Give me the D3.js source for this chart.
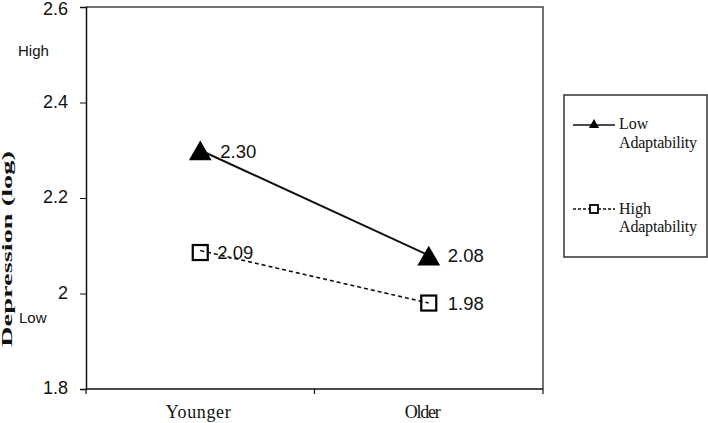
<!DOCTYPE html>
<html>
<head>
<meta charset="utf-8">
<script src="https://cdn.jsdelivr.net/npm/d3@7"></script>
<style>
  body { margin: 0; background: #fff; }
  svg { display: block; }
</style>
</head>
<body>
<div id="chart"></div>
<script>
// data
const groups = ["Younger", "Older"];
const lowAdapt = [2.30, 2.08];
const highAdapt = [2.09, 1.98];
const yTicks = [1.8, 2, 2.2, 2.4, 2.6];
const seriesNames = ["Low Adaptability", "High Adaptability"];

const W = 708, H = 423;
const plotL = 86, plotR = 543, plotT = 7, plotB = 389;

const svg = d3.select("#chart").append("svg")
    .attr("width", W)
    .attr("height", H);

const x = d3.scaleBand()
    .domain(groups)
    .range([plotL, plotR]);

const y = d3.scaleLinear()
    .domain([1.8, 2.6])
    .range([plotB, plotT]);

// plot frame (top and right)
svg.append("path")
    .attr("d", `M${plotL},${plotT}H${plotR}V${plotB}`)
    .attr("fill", "none")
    .attr("stroke", "#444")
    .attr("stroke-width", 1.5);

// y axis
const yAxis = svg.append("g")
    .attr("transform", `translate(${plotL},0)`)
    .call(d3.axisLeft(y).tickValues(yTicks).tickSize(6).tickPadding(12)
        .tickFormat(d => d === 2 ? "2" : d3.format(".1f")(d)));
yAxis.select(".domain").attr("stroke", "#111").attr("stroke-width", 1.5);
yAxis.selectAll(".tick line").attr("stroke", "#111");
yAxis.selectAll("text")
    .attr("font-family", "Liberation Sans, Arial, sans-serif")
    .attr("font-size", 18)
    .attr("fill", "#111")
    .attr("dy", d => d === 2.6 ? "0.42em" : "0.25em");

// x axis: ticks sit on band edges
const xAxis = svg.append("g")
    .attr("transform", `translate(0,${plotB})`);
xAxis.append("line")
    .attr("x1", plotL).attr("x2", plotR)
    .attr("stroke", "#111").attr("stroke-width", 1.5);
const edges = [plotL, x(groups[1]), plotR];
xAxis.selectAll(".edge")
    .data(edges)
    .join("line")
    .attr("class", "edge")
    .attr("x1", d => d).attr("x2", d => d)
    .attr("y1", 0).attr("y2", 5)
    .attr("stroke", "#111").attr("stroke-width", 1.2);
const xLabW = { Younger: 65, Older: 36 };
xAxis.selectAll("text")
    .data(groups)
    .join("text")
    .attr("x", (d, i) => x(d) + x.bandwidth() / 2 - (i === 0 ? 2 : 6))
    .attr("y", 29)
    .attr("text-anchor", "middle")
    .attr("font-family", "Liberation Serif, Times New Roman, serif")
    .attr("font-size", 18)
    .attr("textLength", d => xLabW[d])
    .attr("lengthAdjust", "spacing")
    .attr("fill", "#111")
    .text(d => d);

// y title and High / Low hints
svg.append("text")
    .attr("transform", "translate(12,249) rotate(-90)")
    .attr("text-anchor", "middle")
    .attr("font-family", "Liberation Serif, Times New Roman, serif")
    .attr("font-weight", "bold")
    .attr("font-size", 15)
    .attr("textLength", 196)
    .attr("lengthAdjust", "spacingAndGlyphs")
    .attr("fill", "#111")
    .text("Depression (log)");

svg.append("text")
    .attr("x", 18).attr("y", 56)
    .attr("font-family", "Liberation Sans, Arial, sans-serif")
    .attr("font-size", 15)
    .attr("fill", "#111")
    .text("High");
svg.append("text")
    .attr("x", 19).attr("y", 323)
    .attr("font-family", "Liberation Sans, Arial, sans-serif")
    .attr("font-size", 15)
    .attr("fill", "#111")
    .text("Low");

const cx = d => x(d) + x.bandwidth() / 2;
const line = d3.line()
    .x((d, i) => cx(groups[i]))
    .y(d => y(d));

// high adaptability (dashed, open squares)
svg.append("path")
    .datum(highAdapt)
    .attr("d", line)
    .attr("fill", "none")
    .attr("stroke", "#111")
    .attr("stroke-width", 1.6)
    .attr("stroke-dasharray", "4,3");

// low adaptability (solid, triangles)
svg.append("path")
    .datum(lowAdapt)
    .attr("d", line)
    .attr("fill", "none")
    .attr("stroke", "#111")
    .attr("stroke-width", 2);

const tri = d3.symbol().type(d3.symbolTriangle).size(225);

svg.selectAll(".tri")
    .data(lowAdapt)
    .join("path")
    .attr("class", "tri")
    .attr("d", tri)
    .attr("transform", (d, i) => `translate(${cx(groups[i])},${y(d) + 3.5})`)
    .attr("fill", "#000");

svg.selectAll(".sq")
    .data(highAdapt)
    .join("rect")
    .attr("class", "sq")
    .attr("x", (d, i) => cx(groups[i]) - 7.5)
    .attr("y", (d, i) => y(d) - 7.5 + (i === 0 ? 2 : 0))
    .attr("width", 15).attr("height", 15)
    .attr("fill", "none")
    .attr("stroke", "#000")
    .attr("stroke-width", 2.2);

// value labels
const labelFmt = d3.format(".2f");
svg.selectAll(".lab-low")
    .data(lowAdapt)
    .join("text")
    .attr("class", "lab-low")
    .attr("x", (d, i) => cx(groups[i]) + (i === 0 ? 20 : 19))
    .attr("y", (d, i) => y(d) + (i === 0 ? 7.5 : 6.5))
    .attr("font-family", "Liberation Sans, Arial, sans-serif")
    .attr("font-size", 18.5)
    .attr("fill", "#111")
    .text(labelFmt);
svg.selectAll(".lab-high")
    .data(highAdapt)
    .join("text")
    .attr("class", "lab-high")
    .attr("x", (d, i) => cx(groups[i]) + (i === 0 ? 17 : 19))
    .attr("y", (d, i) => y(d) + (i === 0 ? 8.5 : 7))
    .attr("font-family", "Liberation Sans, Arial, sans-serif")
    .attr("font-size", 18.5)
    .attr("fill", "#111")
    .text(labelFmt);

// legend
const lg = svg.append("g");
lg.append("rect")
    .attr("x", 564).attr("y", 95)
    .attr("width", 143).attr("height", 162)
    .attr("fill", "#fff")
    .attr("stroke", "#333")
    .attr("stroke-width", 1.5);

const legendRows = [
    { name: seriesNames[0], y: 125, dash: null, mark: "tri", b1: 129, b2: 147.5 },
    { name: seriesNames[1], y: 209, dash: "3,2", mark: "sq", b1: 213.5, b2: 232 }
];
legendRows.forEach(r => {
    lg.append("line")
        .attr("x1", 573).attr("x2", 615)
        .attr("y1", r.y).attr("y2", r.y)
        .attr("stroke", "#111")
        .attr("stroke-width", r.dash ? 1.3 : 1.6)
        .attr("stroke-dasharray", r.dash);
    if (r.mark === "tri") {
        lg.append("path")
            .attr("d", d3.symbol().type(d3.symbolTriangle).size(45))
            .attr("transform", `translate(594,${r.y})`)
            .attr("fill", "#000");
    } else {
        lg.append("rect")
            .attr("x", 590).attr("y", r.y - 4)
            .attr("width", 8).attr("height", 8)
            .attr("fill", "#fff")
            .attr("stroke", "#000")
            .attr("stroke-width", 1.8);
    }
    const words = r.name.split(" ");
    [r.b1, r.b2].forEach((b, k) => {
        lg.append("text")
            .attr("x", 619).attr("y", b)
            .attr("font-family", "Liberation Serif, Times New Roman, serif")
            .attr("font-size", 16)
            .attr("fill", "#111")
            .attr("textLength", k === 1 ? 78 : null)
            .text(words[k]);
    });
});
</script>
</body>
</html>
